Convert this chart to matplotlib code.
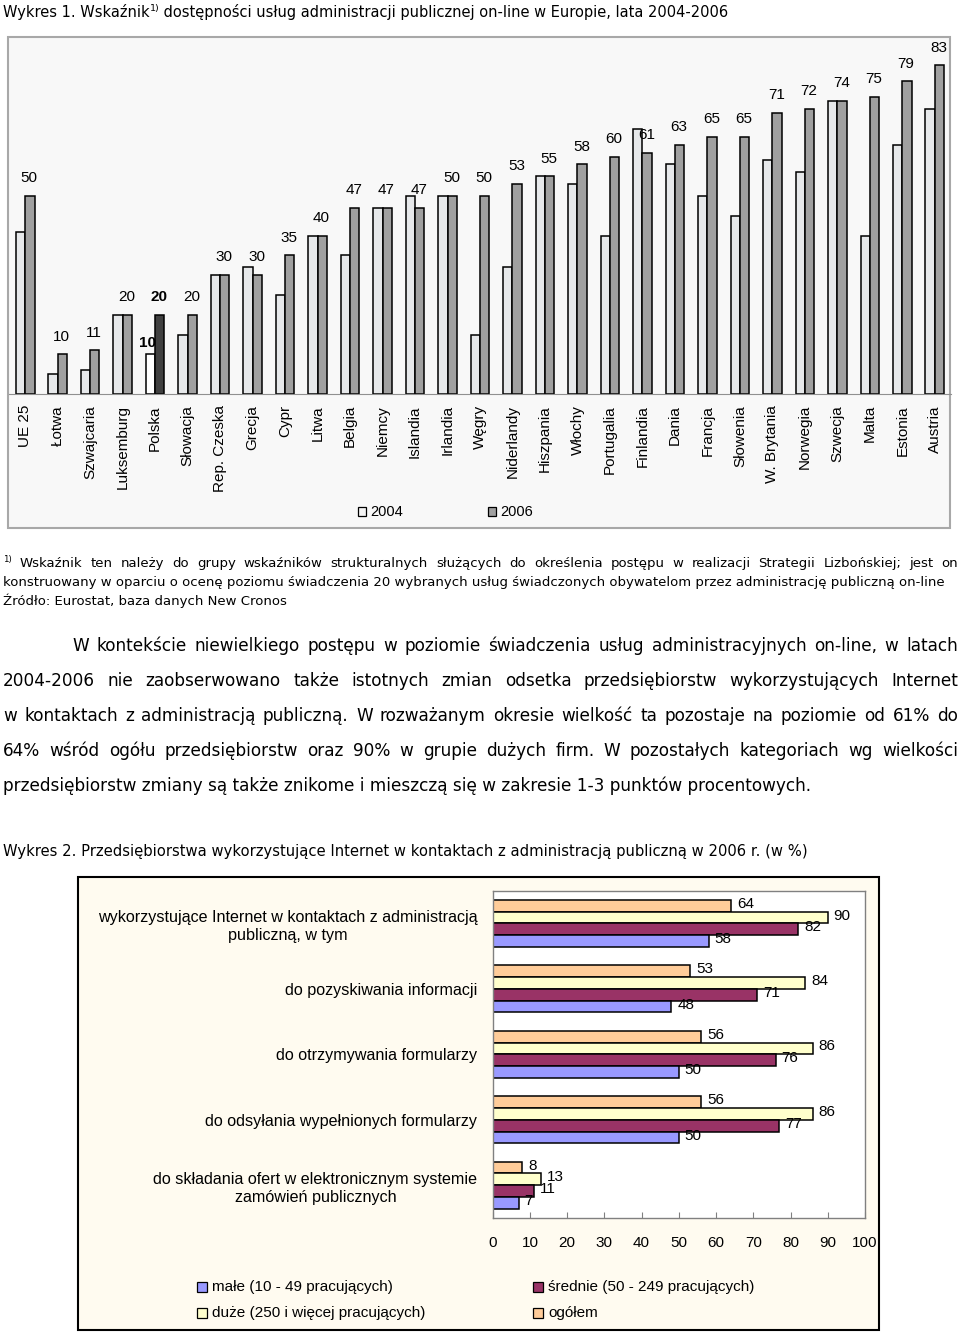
import matplotlib
matplotlib.use("Agg")
import matplotlib.pyplot as plt
from matplotlib.patches import Rectangle
import numpy as np

# ---------------- data ----------------
countries = ["UE 25", "Łotwa", "Szwajcaria", "Luksemburg", "Polska", "Słowacja",
             "Rep. Czeska", "Grecja", "Cypr", "Litwa", "Belgia", "Niemcy", "Islandia",
             "Irlandia", "Węgry", "Niderlandy", "Hiszpania", "Włochy", "Portugalia",
             "Finlandia", "Dania", "Francja", "Słowenia", "W. Brytania", "Norwegia",
             "Szwecja", "Malta", "Estonia", "Austria"]
v2004 = [41, 5, 6, 20, 10, 15, 30, 32, 25, 40, 35, 47, 50, 50, 15, 32, 55, 53, 40, 67,
         58, 50, 45, 59, 56, 74, 40, 63, 72]
v2006 = [50, 10, 11, 20, 20, 20, 30, 30, 35, 40, 47, 47, 47, 50, 50, 53, 55, 58, 60, 61,
         63, 65, 65, 71, 72, 74, 75, 79, 83]
series1 = ["2004", "2006"]
highlight = "Polska"

cats2 = ["wykorzystujące Internet w kontaktach z administracją\npubliczną, w tym",
         "do pozyskiwania informacji",
         "do otrzymywania formularzy",
         "do odsyłania wypełnionych formularzy",
         "do składania ofert w elektronicznym systemie\nzamówień publicznych"]
ogolem = [64, 53, 56, 56, 8]
duze = [90, 84, 86, 86, 13]
srednie = [82, 71, 76, 77, 11]
male = [58, 48, 50, 50, 7]
series2 = ["ogółem", "duże (250 i więcej pracujących)",
           "średnie (50 - 249 pracujących)", "małe (10 - 49 pracujących)"]
ticks2 = [0, 10, 20, 30, 40, 50, 60, 70, 80, 90, 100]

# ---------------- figure ----------------
W, H = 960, 1336
fig = plt.figure(figsize=(W / 100, H / 100), dpi=100)
fig.patch.set_facecolor("white")
R = fig.canvas.get_renderer()

ov = fig.add_axes([0, 0, 1, 1], zorder=0)
ov.set_xlim(0, W)
ov.set_ylim(H, 0)
ov.axis("off")

DOC = "DejaVu Sans"
CH = "Liberation Sans"


def tw(s, size, family=DOC, weight="normal"):
    t = ov.text(0, 0, s, fontsize=size, family=family, weight=weight)
    w = t.get_window_extent(R).width
    t.remove()
    return w


def fit(s, target, family=DOC):
    return 10.0 * target / tw(s, 10.0, family)


def justify(line, x0, x1, yb, size, family=DOC):
    words = line.split()
    ws = [tw(w, size, family) for w in words]
    gap = (x1 - x0 - sum(ws)) / max(len(words) - 1, 1)
    x = x0
    for w, wd in zip(words, ws):
        ov.text(x, yb, w, fontsize=size, family=family, ha="left", va="baseline")
        x += wd + gap


# ---------------- title 1 ----------------
t1a = "Wykres 1. Wskaźnik"
t1b = "1)"
t1c = " dostępności usług administracji publicznej on-line w Europie, lata 2004-2006"
w10 = tw(t1a, 10) + tw(t1b, 6.5) + tw(t1c, 10)
s1 = 10 * 719 / w10
x = 3
ov.text(x, 17, t1a, fontsize=s1, family=DOC, va="baseline")
x += tw(t1a, s1)
ov.text(x, 11, t1b, fontsize=s1 * 0.65, family=DOC, va="baseline")
x += tw(t1b, s1 * 0.65)
ov.text(x, 17, t1c, fontsize=s1, family=DOC, va="baseline")

# ---------------- chart 1 ----------------
ov.add_patch(Rectangle((8, 37), 942, 491, facecolor="#f8f8f8", edgecolor="#a8a8a8", lw=1.5))
ax1 = fig.add_axes([9 / W, 1 - 394 / H, 942 / W, 357 / H], zorder=1)
ax1.set_facecolor("none")
n = len(countries)
xs = np.arange(n)
bw = 0.286
c04 = ["white" if c == highlight else "#e6e8ea" for c in countries]
c06 = ["#404040" if c == highlight else "#a0a0a0" for c in countries]
ax1.bar(xs - bw / 2, v2004, bw, color=c04, edgecolor="black", lw=1.1)
ax1.bar(xs + bw / 2, v2006, bw, color=c06, edgecolor="black", lw=1.1)
ax1.set_xlim(-0.5, n - 0.5)
ax1.set_ylim(0, 90.2)
ax1.set_yticks([])
for sp in ["top", "left", "right"]:
    ax1.spines[sp].set_visible(False)
ax1.spines["bottom"].set_color("#909090")
ax1.set_xticks(xs)
ax1.set_xticklabels(countries, rotation=90, fontsize=11, family=CH, va="top")
ax1.tick_params(axis="x", length=0, pad=8)
for i, c in enumerate(countries):
    bold = "bold" if c == highlight else "normal"
    ax1.text(i + 0.12, v2006[i] + 4.5, str(v2006[i]), ha="center", va="center",
             fontsize=11, family=CH, weight=bold)
    if c == highlight:
        ax1.text(i - 0.25, v2004[i] + 2.9, str(v2004[i]), ha="center", va="center",
                 fontsize=11, family=CH, weight="bold")

# legend 1
for (sx, lab, col) in [(358, series1[0], "#f4f4f4"), (488, series1[1], "#a0a0a0")]:
    ov.add_patch(Rectangle((sx, 507), 8, 9, facecolor=col, edgecolor="black", lw=0.9))
    ov.text(sx + 12, 512, lab, fontsize=10.5, family=CH, va="center", ha="left")

# ---------------- footnote ----------------
fn2 = ("konstruowany w oparciu o ocenę poziomu świadczenia 20 wybranych usług "
       "świadczonych obywatelom przez administrację publiczną on-line")
sf = fit(fn2, 932)
ov.text(3, 562, "1)", fontsize=sf * 0.65, family=DOC, va="baseline")
justify("Wskaźnik ten należy do grupy wskaźników strukturalnych służących do określenia "
        "postępu w realizacji Strategii Lizbońskiej; jest on", 20, 958, 567, sf)
ov.text(3, 586, fn2, fontsize=sf, family=DOC, va="baseline")
ov.text(3, 605, "Źródło: Eurostat, baza danych New Cronos", fontsize=sf, family=DOC,
        va="baseline")

# ---------------- body paragraph ----------------
b5 = "przedsiębiorstw zmiany są także znikome i mieszczą się w zakresie 1-3 punktów procentowych."
sb = fit(b5, 812)
justify("W kontekście niewielkiego postępu w poziomie świadczenia usług administracyjnych "
        "on-line, w latach", 72, 958, 651, sb)
justify("2004-2006 nie zaobserwowano także istotnych zmian odsetka przedsiębiorstw "
        "wykorzystujących Internet", 3, 958, 686, sb)
justify("w kontaktach z administracją publiczną. W rozważanym okresie wielkość ta pozostaje "
        "na poziomie od 61% do", 3, 958, 721, sb)
justify("64% wśród ogółu przedsiębiorstw oraz 90% w grupie dużych firm. W pozostałych "
        "kategoriach wg wielkości", 3, 958, 756, sb)
ov.text(3, 791, b5, fontsize=sb, family=DOC, va="baseline")

# ---------------- title 2 ----------------
t2 = ("Wykres 2. Przedsiębiorstwa wykorzystujące Internet w kontaktach z administracją "
      "publiczną w 2006 r. (w %)")
ov.text(3, 856, t2, fontsize=fit(t2, 799), family=DOC, va="baseline")

# ---------------- chart 2 ----------------
ov.add_patch(Rectangle((78, 877), 801, 453, facecolor="#fffbf0", edgecolor="black", lw=1.5))
ax2 = fig.add_axes([492.7 / W, 1 - 1218 / H, 372.3 / W, 327.3 / H], zorder=1)
ax2.set_facecolor("white")
m = len(cats2)
ys = np.arange(m)
bh = 0.18
cols2 = ["#ffcc99", "#ffffcc", "#993366", "#9999ff"]
vals2 = [ogolem, duze, srednie, male]
offs = [-1.5 * bh, -0.5 * bh, 0.5 * bh, 1.5 * bh]
for vals, col, off in zip(vals2, cols2, offs):
    ax2.barh(ys + off, vals, bh, color=col, edgecolor="black", lw=1.1)
    for yy, v in zip(ys + off, vals):
        ax2.text(v + 1.6, yy - 0.03, str(v), ha="left", va="center", fontsize=11, family=CH)
ax2.set_xlim(0, 100)
ax2.set_ylim(m - 0.5, -0.5)
ax2.set_xticks(ticks2)
ax2.set_xticklabels([str(t) for t in ticks2], fontsize=11, family=CH)
ax2.tick_params(axis="x", direction="in", length=4, color="#808080", pad=13)
ax2.set_yticks(ys)
ax2.set_yticklabels(cats2, fontsize=11.6, family=CH, multialignment="center",
                    linespacing=1.25)
ax2.tick_params(axis="y", length=0, pad=11)
for sp in ax2.spines.values():
    sp.set_color("#808080")
    sp.set_linewidth(1.0)

# legend 2
leg = [(197, 1287, series2[3], cols2[3]), (533, 1287, series2[2], cols2[2]),
       (197, 1313, series2[1], cols2[1]), (533, 1313, series2[0], cols2[0])]
for lx, ly, lab, col in leg:
    ov.add_patch(Rectangle((lx, ly - 5), 10, 10, facecolor=col, edgecolor="black", lw=0.9))
    ov.text(lx + 15, ly, lab, fontsize=11, family=CH, va="center", ha="left")

fig.savefig("out.png", dpi=100)
